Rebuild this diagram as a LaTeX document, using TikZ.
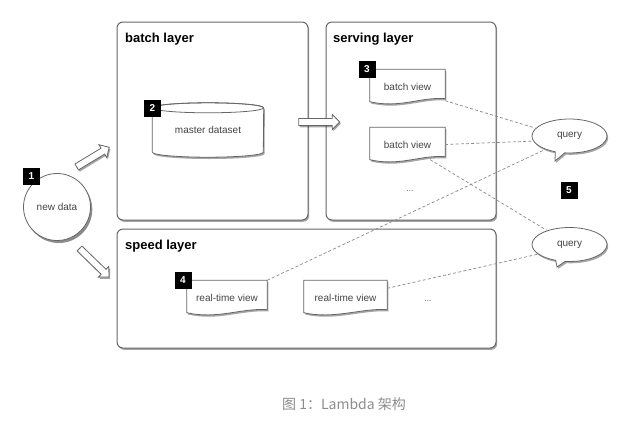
\documentclass[tikz,border=0pt]{standalone}
\usepackage{fontspec}
\setmainfont{Liberation Sans}
\newfontfamily\cjk{Noto Sans CJK SC}
\usetikzlibrary{shapes.geometric,shapes.callouts,shapes.arrows,shadows,calc}
\pgfdeclarelayer{back}
\pgfdeclarelayer{mid}
\pgfsetlayers{back,mid,main}
\definecolor{edge}{HTML}{666666}
\definecolor{txt}{HTML}{444444}
\definecolor{dashc}{HTML}{8A8A8A}
\definecolor{capc}{HTML}{8C8C8C}
\newcommand\docshape[1]{%
  \begin{pgfonlayer}{mid}
  \draw[docline] (#1.north west) -- (#1.north east) -- ([yshift=5pt]#1.south east)
    .. controls ([xshift=-25pt,yshift=7pt]#1.south east) and ([xshift=30pt,yshift=-5pt]#1.south west)
    .. ([yshift=2pt]#1.south west) -- cycle;
  \end{pgfonlayer}}
\begin{document}
\begin{tikzpicture}[x=1pt,y=-1pt,
  shad/.style={drop shadow={shadow xshift=1.2pt,shadow yshift=-1.8pt,opacity=0.35,fill=black}},
  layerbox/.style={draw=edge,line width=1pt,rounded corners=6pt,fill=white,shad},
  title/.style={anchor=west,font=\fontsize{13}{15}\selectfont\bfseries,text=black,inner sep=0pt},
  docnode/.style={minimum width=#1,minimum height=34,inner sep=0pt,font=\fontsize{10}{12}\selectfont,text=txt},
  docline/.style={draw=edge,line width=0.8pt,fill=white,shad},
  badge/.style={fill=black,text=white,minimum size=17,inner sep=0pt,font=\fontsize{10}{12}\selectfont\bfseries},
  query/.style={ellipse callout,draw=edge,line width=0.8pt,fill=white,shad,minimum width=75,minimum height=34,inner sep=0pt,font=\fontsize{10}{12}\selectfont,text=txt},
  blockarrow/.style={single arrow,draw=edge,line width=0.8pt,fill=white,shad,minimum width=15pt,single arrow head extend=4pt,single arrow tip angle=90,inner xsep=0pt,inner ysep=3pt,minimum height=#1},
  dashline/.style={draw=dashc,line width=0.7pt,dash pattern=on 3pt off 2.2pt},
  dots/.style={font=\fontsize{8}{10}\selectfont,text=txt}
]
\useasboundingbox (0,0) rectangle (636,424);

% layer boxes
\begin{pgfonlayer}{back}
\node[layerbox,minimum width=191,minimum height=198] (batch) at (212.5,121) {};
\node[layerbox,minimum width=170,minimum height=198] (serving) at (411,121) {};
\node[layerbox,minimum width=379,minimum height=119] (speed) at (306.5,288.5) {};
\end{pgfonlayer}
\node[title] (tbatch) at (125,39) {batch layer};
\node[title] (tserving) at (333,39) {serving layer};
\node[title] (tspeed) at (125,246) {speed layer};

% new data
\node[circle,draw=edge,line width=0.8pt,fill=white,
  drop shadow={shadow xshift=1.8pt,shadow yshift=-2.5pt,opacity=0.45,fill=black},
  minimum size=67,inner sep=0pt,
  font=\fontsize{10}{12}\selectfont,text=txt] (nd) at (57,207) {new data};
\node[badge] (b1) at (31.5,176) {1};

% master dataset cylinder
\node[minimum width=111,minimum height=54,inner sep=0pt,font=\fontsize{10}{12}\selectfont,text=txt] (md) at (208,130) {\raisebox{-2pt}{master dataset}};
\begin{pgfonlayer}{mid}
\draw[docline] ([yshift=-5pt]md.north west) -- ([yshift=5pt]md.south west)
  arc[start angle=180,end angle=360,x radius=55.5pt,y radius=5pt]
  -- ([yshift=-5pt]md.north east)
  arc[start angle=0,end angle=180,x radius=55.5pt,y radius=5pt] -- cycle;
\draw[draw=edge,line width=0.8pt] ([yshift=-5pt]md.north) ellipse[x radius=55.5pt,y radius=5pt];
\end{pgfonlayer}
\node[badge] (b2) at (152.5,108) {2};

% batch views
\node[docnode=75] (bv1) at (407.5,86.5) {batch view};
\docshape{bv1}
\node[badge] (b3) at (367,69) {3};
\node[docnode=75] (bv2) at (407.5,144.5) {batch view};
\docshape{bv2}
\node[dots] (dots1) at (410,191) {...};

% real-time views
\node[docnode=80] (rtv1) at (227,297.5) {real-time view};
\docshape{rtv1}
\node[badge] (b4) at (183,280.5) {4};
\node[docnode=83] (rtv2) at (345.5,297.5) {real-time view};
\docshape{rtv2}
\node[dots] (dots2) at (428,301) {...};

% queries
\node[query,callout absolute pointer={(555,161)}] (q1) at (569.5,136) {query};
\node[query,callout absolute pointer={(557,267)}] (q2) at (569.5,244.5) {query};
\node[badge] (b5) at (569,190) {5};

% block arrows
\coordinate (a1s) at (75,168);
\coordinate (a1e) at (108,148);
\coordinate (a2s) at (78,247);
\coordinate (a2e) at (108,276);
\coordinate (a3s) at (297,122);
\coordinate (a3e) at (338,122);
\path (a1s) -- (a1e) node[midway,sloped,allow upside down,blockarrow=38pt] (ar1) {};
\path (a2s) -- (a2e) node[midway,sloped,allow upside down,blockarrow=41pt] (ar2) {};
\path (a3s) -- (a3e) node[midway,sloped,allow upside down,blockarrow=41pt] (ar3) {};

% dashed connectors
\draw[dashline] ([yshift=3pt]bv1.south east) -- (q1.167);
\draw[dashline] (bv2.east) -- (q1.188);
\draw[dashline] ([xshift=-15pt,yshift=2pt]bv2.south east) -- (q2.148);
\draw[dashline] (rtv1.north east) -- (q1.209);
\draw[dashline] ([yshift=-8pt]rtv2.north east) -- (q2.197);

% caption
\node[font=\cjk\fontsize{14}{17}\selectfont,text=capc] (cap) at (344,404) {图 1：Lambda 架构};
\end{tikzpicture}
\end{document}
